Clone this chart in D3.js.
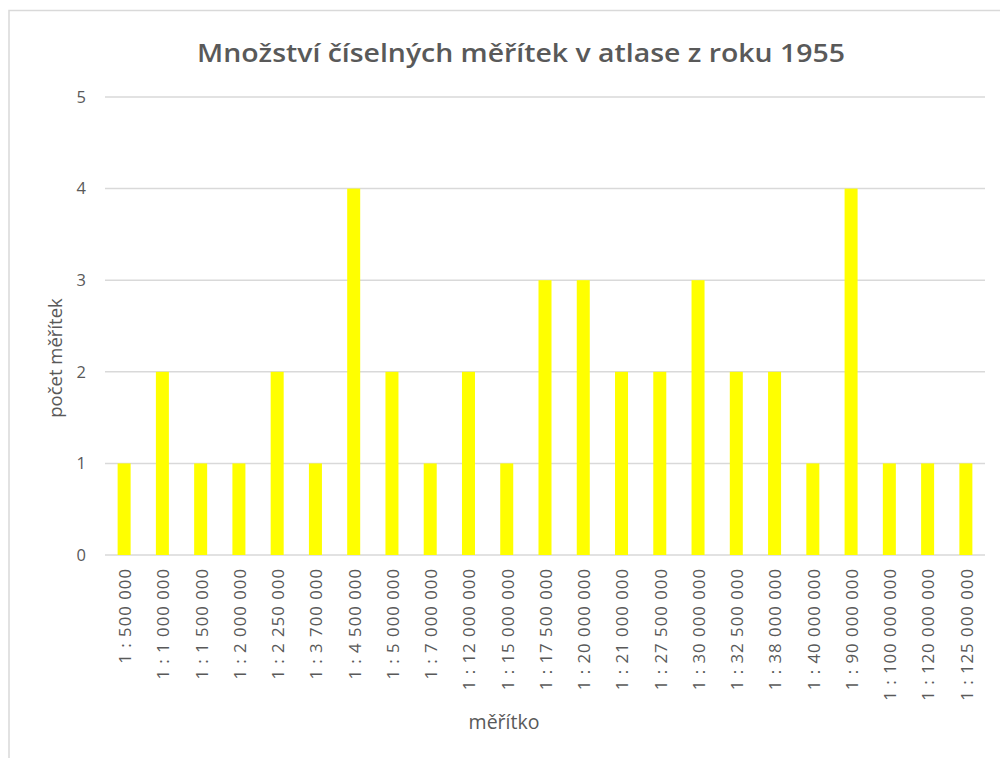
<!DOCTYPE html>
<html><head><meta charset="utf-8">
<script src="https://cdn.jsdelivr.net/npm/d3@7"></script>
<style>body{margin:0;background:#fff}svg{display:block}</style>
</head><body>
<script>
const categories = ["1 : 500 000","1 : 1 000 000","1 : 1 500 000","1 : 2 000 000","1 : 2 250 000","1 : 3 700 000","1 : 4 500 000","1 : 5 000 000","1 : 7 000 000","1 : 12 000 000","1 : 15 000 000","1 : 17 500 000","1 : 20 000 000","1 : 21 000 000","1 : 27 500 000","1 : 30 000 000","1 : 32 500 000","1 : 38 000 000","1 : 40 000 000","1 : 90 000 000","1 : 100 000 000","1 : 120 000 000","1 : 125 000 000"];
const values = [1,2,1,1,2,1,4,2,1,2,1,3,3,2,2,3,2,2,1,4,1,1,1];
const yTicks = [0,1,2,3,4,5];
const title = "Množství číselných měřítek v atlase z roku 1955";
const yTitle = "počet měřítek";
const xTitle = "měřítko";

const W = 1000, H = 758;
const svg = d3.select("body").append("svg").attr("width", W).attr("height", H);
const txt = "#595959";
const font = "'Open Sans', 'Noto Sans', sans-serif";

// chart frame
svg.append("path").attr("d", `M9,${H} V10.5 H${W}`).attr("fill","none").attr("stroke","#d9d9d9").attr("stroke-width",1.5);

const x = d3.scaleBand().domain(categories).range([105, 985]).paddingInner(0.66).paddingOuter(0.33);
const y = d3.scaleLinear().domain([0,5]).range([555, 97]);

// gridlines
svg.append("g").selectAll("line").data(yTicks).join("line")
  .attr("x1",105).attr("x2",985).attr("y1",d=>y(d)).attr("y2",d=>y(d))
  .attr("stroke","#d9d9d9").attr("stroke-width",1.5);

// y labels
svg.append("g").selectAll("text").data(yTicks).join("text")
  .attr("x",86).attr("y",d=>y(d)).attr("dy","0.35em").attr("text-anchor","end")
  .attr("fill",txt).attr("font-family",font).attr("font-size",16.5).text(d=>d);

// bars
svg.append("g").selectAll("rect").data(values).join("rect")
  .attr("x",(d,i)=>x(categories[i])).attr("width",x.bandwidth())
  .attr("y",d=>y(d)).attr("height",d=>y(0)-y(d)).attr("fill","#ffff00");

// x labels
svg.append("g").selectAll("text").data(categories).join("text")
  .attr("transform",d=>`translate(${x(d)+x.bandwidth()/2+1},568) rotate(-90)`)
  .attr("dy","0.35em").attr("text-anchor","end")
  .attr("letter-spacing",1)
  .attr("fill",txt).attr("font-family",font).attr("font-size",16.8).text(d=>d);

// title
svg.append("text").attr("x",521).attr("y",62).attr("text-anchor","middle")
  .attr("fill",txt).attr("font-family",font)
  .attr("font-weight",600).attr("font-size",25)
  .attr("textLength",648).attr("lengthAdjust","spacingAndGlyphs").text(title);

// axis titles
svg.append("text").attr("transform","translate(56,358) rotate(-90)").attr("dy","0.35em")
  .attr("text-anchor","middle").attr("fill",txt).attr("font-family",font).attr("font-size",18.5).text(yTitle);
svg.append("text").attr("x",504).attr("y",722).attr("dy","0.35em")
  .attr("text-anchor","middle").attr("fill",txt).attr("font-family",font).attr("font-size",19.5).text(xTitle);
</script>
</body></html>
